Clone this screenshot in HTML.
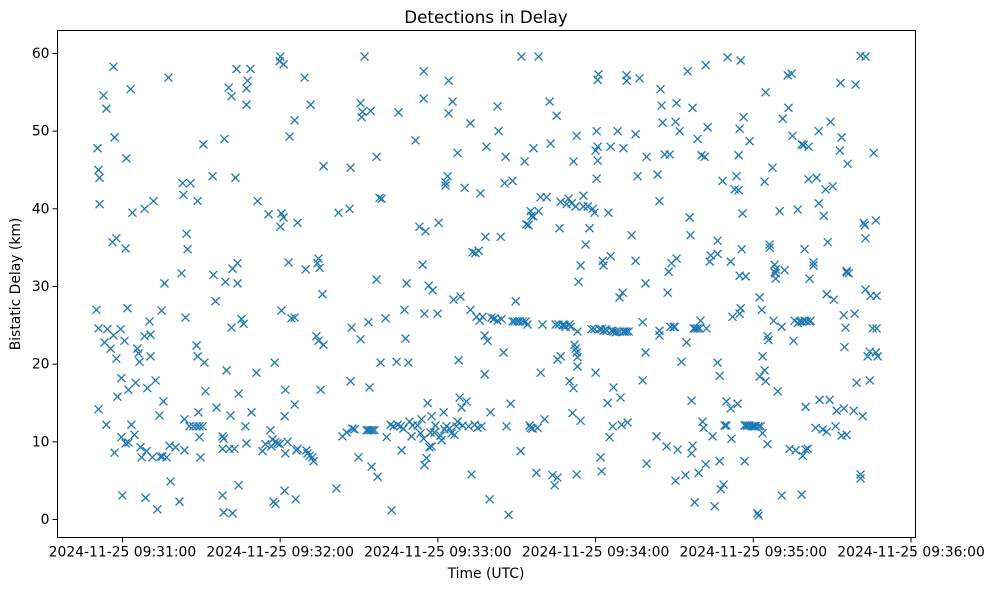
<!DOCTYPE html>
<html><head><meta charset="utf-8"><title>Detections in Delay</title>
<style>
html,body{margin:0;padding:0;background:#fff;}
svg{display:block;font-family:"DejaVu Sans","Liberation Sans",sans-serif;}
</style></head>
<body>
<svg id="chart" width="988" height="590" viewBox="0 0 988 590">
<rect x="0" y="0" width="988" height="590" fill="#fff"/>
<text x="486" y="23" font-size="16.7" text-anchor="middle" fill="#000">Detections in Delay</text>
<g id="grid-ticks"></g>
<g id="points"></g>
<rect x="57.5" y="30.5" width="858" height="507" fill="none" stroke="#000" stroke-width="1"/>
<text x="486" y="578" font-size="13.9" text-anchor="middle">Time (UTC)</text>
<text x="20" y="284" font-size="13.9" text-anchor="middle" transform="rotate(-90 20 284)">Bistatic Delay (km)</text>
</svg>
<script>
const xTickValues = [60, 120, 180, 240, 300, 360];
const xTickLabels = ["2024-11-25 09:31:00","2024-11-25 09:32:00","2024-11-25 09:33:00","2024-11-25 09:34:00","2024-11-25 09:35:00","2024-11-25 09:36:00"];
const yTickValues = [0, 10, 20, 30, 40, 50, 60];
const yTickLabels = ["0","10","20","30","40","50","60"];
// seconds after 09:30:00 UTC
const times = [50.1,50.5,50.9,51.3,51.3,50.9,50.9,52.8,53.9,53.2,53.9,54.3,55.5,56.6,57.0,56.2,57.7,56.6,57.7,57.0,58.1,59.3,59.6,59.6,60.0,60.8,61.2,61.5,61.2,61.9,62.3,62.3,63.1,63.4,63.8,64.6,65.0,65.7,66.1,66.5,66.9,67.3,68.4,68.4,68.8,69.2,69.5,70.3,70.7,70.7,71.4,71.8,72.6,73.3,74.1,74.5,74.9,75.2,75.6,76.0,76.8,77.5,78.3,77.9,80.2,81.7,82.5,82.9,83.2,83.6,83.6,84.0,84.4,84.8,85.9,85.5,87.0,88.2,89.3,90.5,88.2,88.6,88.9,88.6,89.3,89.7,90.8,91.2,91.6,
94.3,94.6,95.4,95.8,98.1,98.1,98.1,98.5,98.5,98.8,99.2,99.6,100.4,100.7,101.1,101.5,101.9,101.5,101.9,102.6,103.0,103.4,103.8,103.8,104.2,104.2,105.3,106.1,106.8,107.2,107.2,107.6,107.2,108.7,109.1,111.0,111.4,113.3,114.4,115.6,116.3,116.7,117.1,117.5,118.2,117.9,118.2,119.0,119.8,119.8,120.1,120.1,120.5,120.5,121.3,121.3,121.7,121.7,122.0,122.0,122.8,123.2,123.6,124.3,125.5,125.5,125.5,125.9,126.2,126.6,126.6,129.3,129.7,130.0,130.4,131.6,131.2,132.3,132.7,133.8,134.2,134.6,134.6,135.0,135.4,136.1,136.5,136.5,141.4,142.2,143.7,145.3,146.4,146.8,147.2,146.8,147.5,148.3,149.8,150.6,150.6,151.0,151.3,152.1,152.9,153.6,154.4,155.1,155.9,153.6,154.0,154.4,154.8,156.7,156.7,157.1,157.8,158.6,158.2,160.1,160.5,162.0,162.4,163.1,164.3,164.7,165.0,165.8,166.2,166.9,167.3,167.7,168.1,168.8,169.2,170.0,170.4,171.5,172.3,173.0,173.4,173.8,174.2,174.6,174.6,174.6,174.9,174.9,175.3,175.7,176.1,176.5,176.8,177.2,177.6,177.6,178.0,178.7,179.1,179.9,180.3,181.0,181.4,182.2,182.5,182.9,182.9,183.7,183.3,184.1,184.1,184.4,185.2,185.6,186.0,186.3,187.1,187.5,187.5,187.9,188.3,188.6,189.0,189.4,190.2,190.9,191.7,192.4,192.4,192.8,193.2,194.0,194.3,194.7,195.1,195.5,195.9,196.2,196.6,197.0,197.8,197.8,198.1,198.5,198.9,199.7,200.0,200.4,201.2,201.6,202.7,202.7,203.1,203.9,204.2,205.0,205.4,205.8,206.1,206.9,207.7,208.4,208.4,209.2,209.6,210.3,211.1,211.5,211.8,212.2,213.0,213.4,213.7,214.1,214.5,215.3,214.9,215.3,215.6,216.0,216.4,216.4,217.5,217.9,218.3,218.3,219.1,219.1,219.8,220.6,221.4,222.5,222.9,223.6,224.4,224.8,225.2,225.5,225.5,225.9,226.3,226.7,226.7,227.4,227.8,228.2,228.6,229.0,229.7,230.1,230.5,230.1,230.9,231.2,231.6,231.6,232.0,232.4,232.4,232.8,232.8,232.8,233.1,233.5,233.1,233.1,234.3,234.3,235.4,235.4,236.2,237.0,237.7,238.5,238.9,239.6,239.6,240.0,240.4,240.0,240.4,240.8,240.8,240.8,241.1,241.5,241.9,242.3,242.3,242.7,243.0,243.0,243.8,244.2,244.6,244.9,245.3,245.7,245.7,246.1,246.5,246.8,246.8,247.6,248.0,248.4,249.1,249.1,249.5,249.9,250.3,250.6,250.6,251.0,251.8,251.8,251.8,252.2,252.6,253.7,255.2,255.2,256.0,256.7,257.9,257.9,259.0,259.0,259.4,259.4,263.2,263.6,264.3,264.3,264.3,264.7,265.1,265.5,266.3,267.0,267.4,267.8,268.2,268.5,268.9,269.7,270.1,270.4,270.4,270.8,270.8,271.2,272.0,272.7,274.2,274.6,275.0,275.8,276.1,276.5,276.5,276.9,276.9,277.3,277.7,278.0,278.8,278.8,279.2,279.6,279.9,280.3,280.7,281.1,281.5,281.9,281.9,282.2,282.6,283.4,283.8,284.5,285.3,286.4,286.4,286.4,287.2,287.2,287.6,288.3,288.7,289.1,289.8,289.8,290.2,291.4,291.4,291.7,292.1,292.9,293.6,294.4,294.0,294.4,294.8,294.8,294.8,295.2,295.2,295.6,295.9,296.3,296.7,296.7,297.1,297.5,297.8,298.6,298.6,299.4,300.1,300.5,300.9,301.6,302.0,302.0,302.4,302.4,302.8,303.2,303.5,303.5,304.3,304.3,304.7,304.7,305.4,305.4,305.8,306.2,306.2,307.3,307.7,308.1,308.1,308.5,308.5,308.5,309.3,310.0,310.8,310.8,311.2,311.9,313.1,313.4,313.8,314.6,314.9,315.3,315.7,316.1,316.9,316.9,317.6,318.4,318.4,318.4,318.8,319.1,319.5,319.5,319.9,319.9,320.3,320.7,321.0,321.0,321.4,321.8,321.4,322.9,322.9,323.7,324.1,324.9,324.9,325.2,326.4,326.8,327.5,327.9,327.9,328.3,329.0,329.4,330.2,330.6,331.3,331.7,332.9,333.2,333.6,333.6,334.4,334.4,334.7,335.1,335.5,335.5,335.5,335.9,336.3,338.2,338.5,338.9,339.3,340.8,340.8,340.8,341.6,342.0,342.4,342.7,342.7,342.7,343.5,344.3,344.3,344.6,345.4,345.8,346.6,346.6,346.9,346.9,347.3];
// bistatic delay in km
const delays = [27.0,47.8,45.0,40.6,44.0,24.6,14.2,54.6,52.9,22.8,12.2,24.5,22.0,58.3,49.2,35.7,36.2,23.7,20.7,8.6,15.8,24.5,18.2,10.6,3.1,23.0,9.8,46.5,34.9,27.2,16.7,9.9,55.4,12.2,39.5,10.9,17.6,22.0,21.4,20.3,9.3,8.0,40.0,23.6,2.8,8.8,16.9,25.5,23.8,21.0,8.0,41.0,17.9,1.3,13.4,8.1,26.9,8.1,15.2,30.4,8.0,56.9,4.9,9.5,9.3,2.3,31.7,43.3,41.8,12.9,8.9,26.0,36.8,34.8,43.3,12.0,12.0,12.0,12.0,12.0,22.4,41.0,13.8,21.0,10.6,8.0,48.3,20.2,16.5,
44.2,31.5,28.1,14.4,9.1,10.7,3.1,0.9,10.4,49.0,30.6,19.2,55.6,9.1,13.4,24.7,0.8,54.5,32.3,9.1,44.0,58.0,33.0,30.4,4.4,16.2,25.8,25.2,12.0,55.5,53.4,56.5,9.8,58.0,13.8,18.9,41.0,8.8,9.7,39.3,11.5,9.4,10.3,2.3,2.0,20.2,10.0,9.8,59.0,9.7,59.6,37.7,26.9,39.4,58.6,38.9,3.7,13.3,8.5,16.7,10.0,33.1,49.3,25.9,51.4,26.0,14.8,2.6,8.9,38.2,9.1,56.9,32.2,8.9,8.5,53.4,8.2,8.0,7.5,23.6,33.0,33.6,23.0,32.4,16.7,29.0,45.5,22.5,4.0,39.5,10.7,11.2,40.0,45.3,24.7,17.8,11.7,11.6,8.0,53.6,23.2,51.8,52.5,59.6,11.5,11.5,11.5,11.5,11.5,25.4,17.0,52.6,6.8,46.7,30.9,5.5,41.4,41.3,20.2,25.9,10.6,12.2,1.2,12.0,20.3,12.2,52.4,12.0,8.9,11.7,27.0,23.3,30.4,20.2,12.6,10.7,12.1,48.8,12.1,37.7,11.1,12.9,32.8,54.2,57.7,10.4,26.5,7.0,37.1,7.9,15.0,30.1,9.3,11.2,13.3,9.4,29.5,11.2,12.1,26.5,38.2,10.8,10.2,13.8,11.6,43.4,43.0,44.2,12.0,56.5,52.3,11.7,11.1,53.8,28.3,10.9,12.0,12.6,47.2,20.5,15.7,28.7,14.4,12.1,42.7,15.2,12.0,51.0,27.0,5.8,34.4,12.2,34.3,26.1,11.8,34.6,25.6,42.0,12.0,26.1,18.7,23.7,36.4,48.0,23.0,2.6,13.8,26.0,25.8,25.9,25.6,53.2,50.0,36.4,25.8,21.5,43.3,46.7,12.0,0.6,14.9,25.5,43.6,25.5,28.1,25.5,25.5,8.8,59.6,25.5,46.1,25.5,38.0,25.1,37.9,39.7,12.1,11.8,39.1,11.7,39.0,47.8,6.0,11.8,39.7,59.6,41.5,18.9,25.1,12.9,41.5,53.8,48.4,5.7,4.4,25.1,52.0,5.4,20.6,25.1,37.5,21.0,40.9,25.0,25.1,25.0,24.8,40.6,41.3,25.1,24.8,17.8,40.7,13.7,46.1,16.9,22.5,22.0,40.3,21.5,5.8,49.4,24.2,30.6,20.9,19.7,32.7,12.7,40.3,41.7,35.4,40.3,37.5,24.5,40.0,39.5,24.5,47.5,50.0,18.9,43.9,46.2,48.0,56.6,57.3,24.5,8.0,6.2,24.5,33.3,24.3,32.7,24.5,24.3,15.0,39.5,10.6,48.0,33.9,24.3,12.0,24.2,17.0,24.1,24.2,50.0,28.6,24.2,15.7,12.2,29.2,47.8,24.2,24.2,56.5,57.2,24.2,12.5,24.2,36.6,49.6,33.3,44.2,56.8,25.4,17.9,21.5,30.4,46.7,7.2,10.7,44.4,23.7,24.3,41.0,55.4,53.3,51.1,47.0,9.4,29.2,31.9,47.0,24.8,33.0,24.8,24.8,51.2,5.0,33.6,53.6,9.0,50.0,20.3,5.7,22.8,57.7,38.9,36.6,15.3,8.5,53.0,9.5,24.6,2.2,24.6,24.6,49.0,6.0,24.6,25.6,46.9,12.6,11.8,46.7,58.5,7.1,24.6,50.5,33.2,34.0,10.7,1.7,35.9,34.2,20.2,18.5,7.5,3.9,43.6,4.5,12.1,15.2,12.1,59.5,14.3,33.2,10.4,26.1,42.5,44.2,42.4,14.9,46.9,50.3,31.4,26.5,59.1,27.2,34.8,39.4,51.8,7.5,12.1,31.3,12.1,12.1,48.7,12.1,12.0,12.0,12.0,12.0,0.8,12.0,0.5,18.4,28.6,12.0,27.0,11.1,21.0,19.2,43.5,55.0,17.8,9.7,23.6,23.1,35.0,35.4,45.3,25.6,32.8,31.8,32.2,31.0,31.7,16.5,39.7,3.1,24.8,51.6,32.1,57.2,53.0,9.1,57.4,49.4,23.0,25.6,8.9,39.9,25.3,25.5,3.2,25.5,48.3,8.2,48.2,34.8,25.6,9.0,14.5,25.5,9.1,43.8,48.0,25.5,25.6,31.0,32.7,33.1,11.8,44.0,40.7,50.0,15.4,11.6,39.1,42.5,11.3,29.0,35.7,15.4,51.2,42.9,28.3,12.0,14.0,47.5,56.2,49.2,10.8,14.3,26.3,22.2,24.7,31.8,32.0,10.9,45.8,31.7,14.0,26.5,56.0,17.6,59.7,5.8,5.3,13.3,38.2,37.9,59.6,36.2,29.6,21.0,17.9,21.6,28.8,24.6,47.2,21.5,38.5,24.6,28.8,21.0];

const NS = "http://www.w3.org/2000/svg";
const plot = {left: 57.5, right: 915.5, top: 30.5, bottom: 537.5};
const xDomain = [35.3, 361.7];
const yDomain = [-2.32, 62.96];
function xScale(v){ return plot.left + (v - xDomain[0]) / (xDomain[1] - xDomain[0]) * (plot.right - plot.left); }
function yScale(v){ return plot.bottom - (v - yDomain[0]) / (yDomain[1] - yDomain[0]) * (plot.bottom - plot.top); }

const tg = document.getElementById('grid-ticks');
xTickValues.forEach(function(v, i){
  const x = xScale(v);
  const ln = document.createElementNS(NS, 'line');
  ln.setAttribute('x1', x); ln.setAttribute('x2', x);
  ln.setAttribute('y1', plot.bottom); ln.setAttribute('y2', plot.bottom + 5);
  ln.setAttribute('stroke', '#000'); ln.setAttribute('stroke-width', '1');
  
  
  tg.appendChild(ln);
  const t = document.createElementNS(NS, 'text');
  t.setAttribute('x', x); t.setAttribute('y', plot.bottom + 19);
  t.setAttribute('font-size', '13.9'); t.setAttribute('text-anchor', 'middle');
  t.textContent = xTickLabels[i];
  
  
  tg.appendChild(t);
});
yTickValues.forEach(function(v, i){
  const y = yScale(v);
  const ln = document.createElementNS(NS, 'line');
  ln.setAttribute('x1', plot.left - 5); ln.setAttribute('x2', plot.left);
  ln.setAttribute('y1', y); ln.setAttribute('y2', y);
  ln.setAttribute('stroke', '#000'); ln.setAttribute('stroke-width', '1');
  
  
  tg.appendChild(ln);
  const t = document.createElementNS(NS, 'text');
  t.setAttribute('x', plot.left - 8); t.setAttribute('y', y + 4.5);
  t.setAttribute('font-size', '13.9'); t.setAttribute('text-anchor', 'end');
  t.textContent = yTickLabels[i];
  
  
  tg.appendChild(t);
});

const pg = document.getElementById('points');
const n = Math.min(times.length, delays.length);
const s = 4;
for (let i = 0; i < n; i++) {
  const cx = xScale(times[i]), cy = yScale(delays[i]);
  const p = document.createElementNS(NS, 'path');
  p.setAttribute('d', 'M' + (cx - s) + ' ' + (cy - s) + 'L' + (cx + s) + ' ' + (cy + s) + 'M' + (cx - s) + ' ' + (cy + s) + 'L' + (cx + s) + ' ' + (cy - s));
  p.setAttribute('stroke', '#1f77b4');
  p.setAttribute('stroke-width', '1.3');
  p.setAttribute('fill', 'none');
  
  
  pg.appendChild(p);
}
</script>
</body></html>
